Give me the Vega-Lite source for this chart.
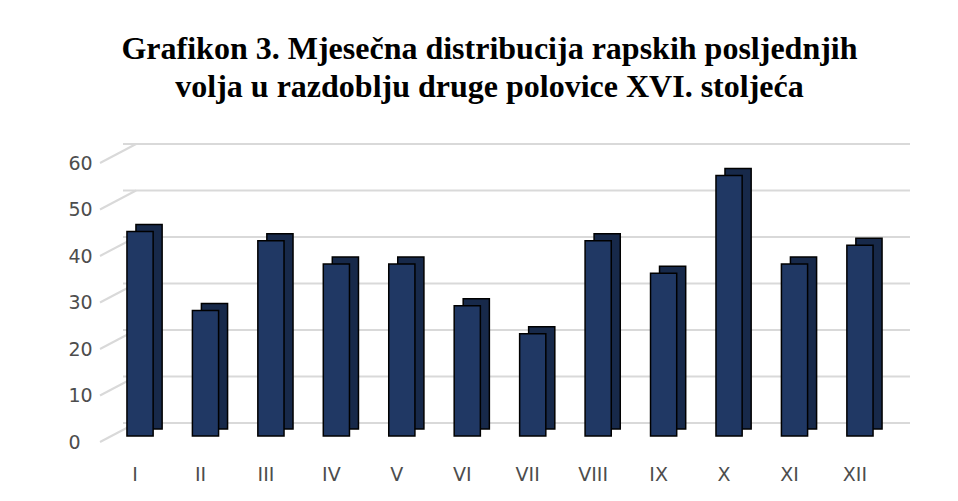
{
  "$schema": "https://vega.github.io/schema/vega-lite/v6.json",
  "width": 787,
  "height": 279,
  "autosize": "none",
  "padding": {"left": 123, "top": 163, "right": 48, "bottom": 59},
  "background": "white",
  "title": {
    "text": ["Grafikon 3. Mjesečna distribucija rapskih posljednjih", "volja u razdoblju druge polovice XVI. stoljeća"],
    "font": "Liberation Serif",
    "fontSize": 32,
    "fontWeight": "bold",
    "color": "#000000",
    "lineHeight": 38,
    "anchor": "middle",
    "offset": 39,
    "dx": -27
  },
  "datasets": {
    "months": [
      {"mjesec": "I", "broj": 44},
      {"mjesec": "II", "broj": 27},
      {"mjesec": "III", "broj": 42},
      {"mjesec": "IV", "broj": 37},
      {"mjesec": "V", "broj": 37},
      {"mjesec": "VI", "broj": 28},
      {"mjesec": "VII", "broj": 22},
      {"mjesec": "VIII", "broj": 42},
      {"mjesec": "IX", "broj": 35},
      {"mjesec": "X", "broj": 56},
      {"mjesec": "XI", "broj": 37},
      {"mjesec": "XII", "broj": 41}
    ],
    "grid": [{"v": 0}, {"v": 10}, {"v": 20}, {"v": 30}, {"v": 40}, {"v": 50}, {"v": 60}]
  },
  "config": {
    "view": {"stroke": null},
    "axis": {
      "labelFont": "DejaVu Sans",
      "labelFontSize": 19,
      "labelColor": "#4d4d4d",
      "domain": false,
      "ticks": false,
      "grid": false,
      "title": null
    },
    "axisX": {"labelAngle": 0, "labelPadding": 23, "labelOffset": -21.5},
    "axisY": {"values": [0, 10, 20, 30, 40, 50, 60], "labelAlign": "left", "labelPadding": 55}
  },
  "layer": [
    {
      "data": {"name": "grid"},
      "mark": {"type": "rule", "color": "#d9d9d9", "strokeWidth": 2, "yOffset": -19},
      "encoding": {
        "y": {
          "field": "v",
          "type": "quantitative",
          "scale": {"domain": [0, 60], "nice": false}
        }
      }
    },
    {
      "data": {"name": "grid"},
      "mark": {"type": "rule", "color": "#d9d9d9", "strokeWidth": 2, "xOffset": -43.45, "x2Offset": -20.45, "y2Offset": -19},
      "encoding": {
        "x": {"datum": "I", "bandPosition": 0},
        "x2": {"datum": "I"},
        "y": {"field": "v", "type": "quantitative"},
        "y2": {"field": "v"}
      }
    },
    {
      "data": {"name": "months"},
      "mark": {"type": "bar", "color": "#17294a", "stroke": "#000000", "strokeWidth": 1.5, "xOffset": -7.5, "yOffset": -13, "y2Offset": -13},
      "encoding": {
        "x": {
          "field": "mjesec",
          "type": "nominal",
          "sort": null,
          "scale": {"paddingInner": 0.6, "paddingOuter": 0.3125}
        },
        "y": {"field": "broj", "type": "quantitative"}
      }
    },
    {
      "data": {"name": "months"},
      "mark": {"type": "bar", "color": "#203864", "stroke": "#000000", "strokeWidth": 1.5, "xOffset": -16.5, "yOffset": -6, "y2Offset": -6},
      "encoding": {
        "x": {"field": "mjesec", "type": "nominal", "sort": null},
        "y": {"field": "broj", "type": "quantitative"}
      }
    }
  ]
}
